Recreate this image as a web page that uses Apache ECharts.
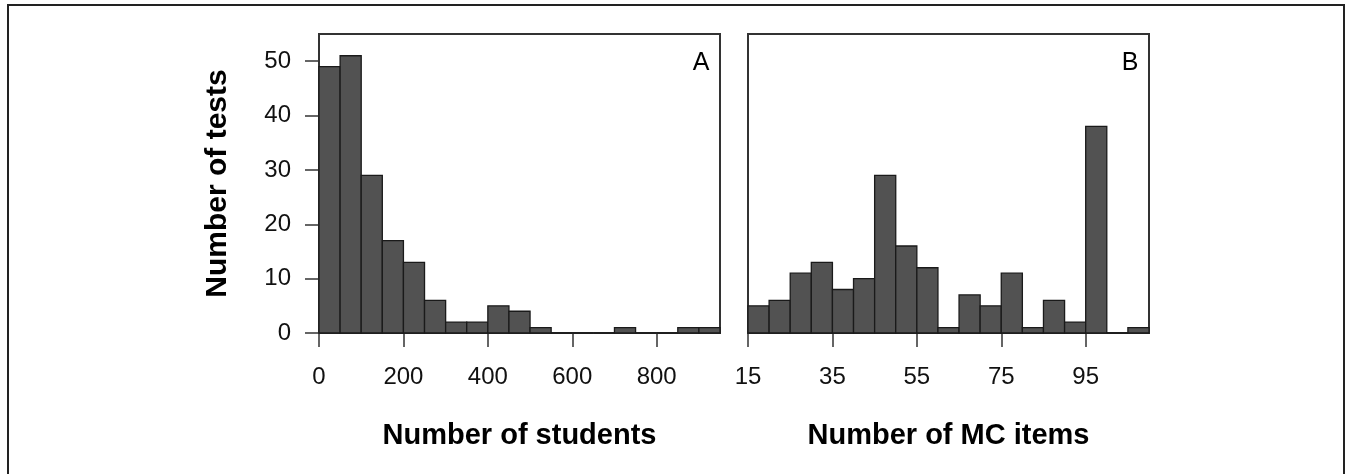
<!DOCTYPE html>
<html>
<head>
<meta charset="utf-8">
<script src="https://cdn.jsdelivr.net/npm/echarts@6/dist/echarts.min.js"></script>
<style>
html,body{margin:0;padding:0;background:#fff;}
#chart{width:1345px;height:474px;}
</style>
</head>
<body>
<div id="chart"></div>
<script>
// ---- data ----
const studentBinEdges = [0,50,100,150,200,250,300,350,400,450,500,550,600,650,700,750,800,850,900,950];
const studentCounts   = [49,51,29,17,13,6,2,2,5,4,1,0,0,0,1,0,0,1,1];
const itemBinEdges    = [15,20,25,30,35,40,45,50,55,60,65,70,75,80,85,90,95,100,105,110];
const itemCounts      = [5,6,11,13,8,10,29,16,12,1,7,5,11,1,6,2,38,0,1];
const studentTicks = [0,200,400,600,800];
const itemTicks    = [15,35,55,75,95];
const countTicks   = [0,10,20,30,40,50];

function toBins(edges, counts){
  return counts.map((c,i)=>[edges[i], edges[i+1], c]);
}

const FONT = "'Liberation Sans', Arial, Helvetica, sans-serif";
const ink = '#1a1a1a';

function renderBar(params, api){
  const p1 = api.coord([api.value(0), api.value(2)]);
  const p2 = api.coord([api.value(1), 0]);
  return {
    type:'rect',
    shape:{x:p1[0], y:p1[1], width:p2[0]-p1[0], height:p2[1]-p1[1]},
    style:{fill:'#525252', stroke:ink, lineWidth:1.3}
  };
}

function xAxisCfg(grid, min, max, ticks, name){
  return {
    type:'value', gridIndex:grid, min:min, max:max,
    axisLine:{show:false},
    splitLine:{show:false},
    axisTick:{show:true, length:14, customValues:ticks, lineStyle:{color:'#333', width:1.5}},
    axisLabel:{customValues:ticks, margin:32, color:'#111', fontSize:24, fontFamily:FONT},
    name:name, nameLocation:'middle', nameGap:88,
    nameTextStyle:{fontSize:29, fontWeight:'bold', color:'#000', fontFamily:FONT}
  };
}

const chart = echarts.init(document.getElementById('chart'), null, {renderer:'canvas'});
chart.setOption({
  animation:false,
  backgroundColor:'#fff',
  grid:[
    {left:319, top:34, width:401, height:299, show:true, borderColor:'#333', borderWidth:2, backgroundColor:'transparent', outerBoundsMode:'none'},
    {left:748, top:34, width:401, height:299, show:true, borderColor:'#333', borderWidth:2, backgroundColor:'transparent', outerBoundsMode:'none'}
  ],
  xAxis:[
    xAxisCfg(0, 0, 950, studentTicks, 'Number of students'),
    xAxisCfg(1, 15, 110, itemTicks, 'Number of MC items')
  ],
  yAxis:[
    {
      type:'value', gridIndex:0, min:0, max:55,
      axisLine:{show:false}, splitLine:{show:false},
      axisTick:{show:true, length:14, customValues:countTicks, lineStyle:{color:'#333', width:1.5}},
      axisLabel:{customValues:countTicks, margin:28, color:'#111', fontSize:24, fontFamily:FONT},
      name:'Number of tests', nameLocation:'middle', nameRotate:90, nameGap:86,
      nameTextStyle:{fontSize:30, fontWeight:'bold', color:'#000', fontFamily:FONT}
    },
    {
      type:'value', gridIndex:1, min:0, max:55,
      axisLine:{show:false}, splitLine:{show:false},
      axisTick:{show:false}, axisLabel:{show:false}
    }
  ],
  series:[
    {type:'custom', xAxisIndex:0, yAxisIndex:0, data:toBins(studentBinEdges, studentCounts), renderItem:renderBar, encode:{x:[0,1], y:2}, clip:false},
    {type:'custom', xAxisIndex:1, yAxisIndex:1, data:toBins(itemBinEdges, itemCounts), renderItem:renderBar, encode:{x:[0,1], y:2}, clip:false}
  ],
  graphic:[
    {type:'rect', shape:{x:8, y:5, width:1336, height:520}, style:{fill:'none', stroke:'#222', lineWidth:2}, z:100},
    {type:'text', x:701, y:63, style:{text:'A', fontSize:25, fontFamily:FONT, fill:'#000', align:'center', verticalAlign:'middle'}, z:100},
    {type:'text', x:1130, y:63, style:{text:'B', fontSize:25, fontFamily:FONT, fill:'#000', align:'center', verticalAlign:'middle'}, z:100}
  ]
});
</script>
</body>
</html>
